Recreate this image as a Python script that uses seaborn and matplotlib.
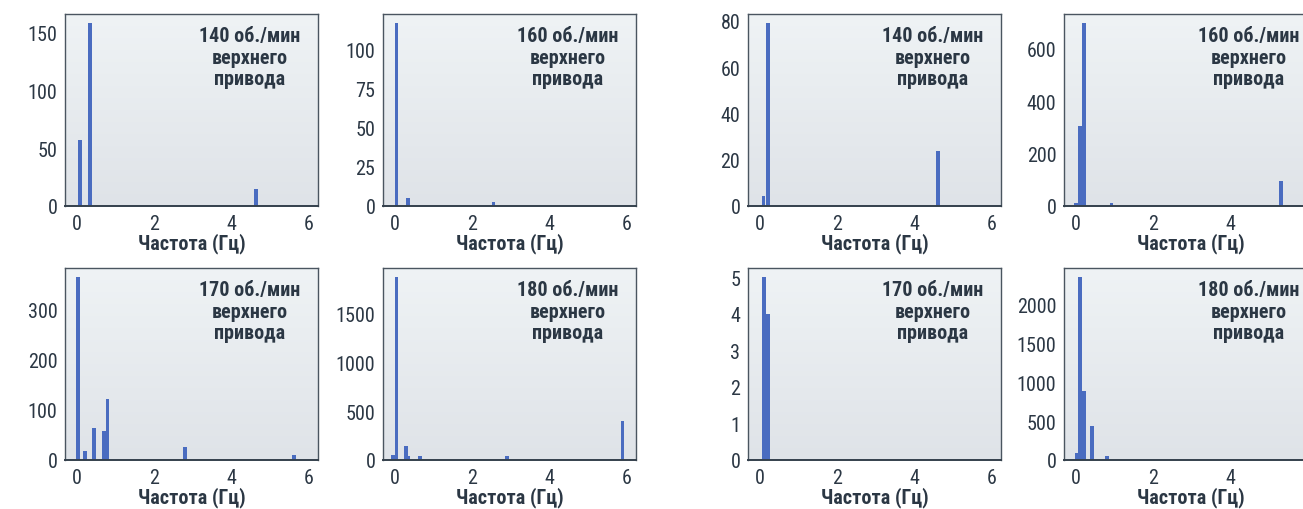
import numpy as np
import pandas as pd
import matplotlib
matplotlib.use("Agg")
import matplotlib.pyplot as plt
from matplotlib.colors import LinearSegmentedColormap
import seaborn as sns

# Spectral peaks: frequency (Hz) and amplitude for each top-drive speed
speed_labels = ["140", "160", "170", "180", "140", "160", "170", "180"]

freq_a140 = [0.08, 0.34, 4.64]
amp_a140 = [57, 158, 15]
freq_a160 = [0.05, 0.35, 2.56]
amp_a160 = [117, 5, 2.5]
freq_a170 = [0.03, 0.21, 0.44, 0.70, 0.80, 2.81, 5.62]
amp_a170 = [365, 17, 63, 58, 122, 25, 10]
freq_a180 = [-0.04, 0.05, 0.29, 0.35, 0.66, 2.92, 5.90]
amp_a180 = [51, 1868, 143, 45, 38, 45, 395]

freq_b140 = [0.10, 0.22, 4.62]
amp_b140 = [4.5, 79, 23.6]
freq_b160 = [0.00, 0.11, 0.22, 0.93, 5.32]
amp_b160 = [13, 305, 698, 12, 97]
freq_b170 = [0.12, 0.22]
amp_b170 = [5, 4]
freq_b180 = [0.03, 0.11, 0.22, 0.42, 0.81, 5.94]
amp_b180 = [85, 2350, 889, 432, 56, 427]

yticks_list = [
    [0, 50, 100, 150],
    [0, 25, 50, 75, 100],
    [0, 100, 200, 300],
    [0, 500, 1000, 1500],
    [0, 20, 40, 60, 80],
    [0, 200, 400, 600],
    [0, 1, 2, 3, 4, 5],
    [0, 500, 1000, 1500, 2000],
]
xticks_full = [0, 2, 4, 6]
xticks_edge = [0, 2, 4]

x_label = "Частота (Гц)"
panel_text = "{} об./мин\nверхнего\nпривода"

series = [
    (freq_a140, amp_a140), (freq_a160, amp_a160),
    (freq_a170, amp_a170), (freq_a180, amp_a180),
    (freq_b140, amp_b140), (freq_b160, amp_b160),
    (freq_b170, amp_b170), (freq_b180, amp_b180),
]

sns.set_theme(style="white")
plt.rcParams["font.family"] = ["Roboto Condensed", "Roboto", "DejaVu Sans"]

BAR_COLOR = "#4a6cc0"
TEXT_COLOR = "#2b3744"
SPINE_COLOR = "#34404c"
BAR_W = 0.1

W, H = 1303, 510
fig = plt.figure(figsize=(W / 100, H / 100), dpi=100)

# panel placement in pixels: (left, top)
col_left = [65, 383, 748, 1064]
row_top = [15, 269]
ax_w, ax_h = 253, 192

grad_cmap = LinearSegmentedColormap.from_list("bg", ["#dfe3e8", "#eff3f5"])
grad = np.linspace(0, 1, 256).reshape(-1, 1)

# order: left block (cols 0,1) rows 0,1 then right block (cols 2,3)
positions = [
    (0, 0), (0, 1), (1, 0), (1, 1),
    (0, 2), (0, 3), (1, 2), (1, 3),
]

for i, ((row, col), (fx, ay)) in enumerate(zip(positions, series)):
    left = col_left[col] / W
    bottom = 1 - (row_top[row] + ax_h) / H
    ax = fig.add_axes([left, bottom, ax_w / W, ax_h / H])

    ax.imshow(grad, cmap=grad_cmap, aspect="auto", origin="lower",
              extent=[0, 1, 0, 1], transform=ax.transAxes, zorder=0)

    df = pd.DataFrame({"freq": fx, "amp": ay})
    uniq = np.unique(df["freq"])
    spacing = np.min(np.diff(uniq)) if len(uniq) > 1 else 1.0
    sns.barplot(data=df, x="freq", y="amp", native_scale=True,
                width=BAR_W / spacing, color=BAR_COLOR, saturation=1,
                errorbar=None, linewidth=0, ax=ax, zorder=2)

    ax.set_xlim(-0.3, 6.25)
    ax.set_ylim(0, max(ay) * 1.05)
    ax.set_xticks(xticks_edge if col == 3 else xticks_full)
    ax.set_yticks(yticks_list[i])
    ax.set_xlabel(x_label, fontsize=14.5, fontweight="bold", color=TEXT_COLOR,
                  labelpad=0)
    ax.set_ylabel("")

    ax.tick_params(axis="both", which="both", direction="out", length=4,
                   width=1, color=SPINE_COLOR, labelsize=14.5,
                   labelcolor=TEXT_COLOR, pad=1.5)

    for side, sp in ax.spines.items():
        sp.set_visible(True)
        sp.set_color(SPINE_COLOR if side == "bottom" else "#4a5560")
        sp.set_linewidth(1.4 if side == "bottom" else 1.0)
        sp.set_zorder(3)

    ax.text(0.73, 0.935, panel_text.format(speed_labels[i]),
            transform=ax.transAxes, ha="center", va="top",
            fontsize=14.5, fontweight="bold", color=TEXT_COLOR,
            linespacing=1.15, zorder=4)

fig.savefig("out.png", dpi=100)
